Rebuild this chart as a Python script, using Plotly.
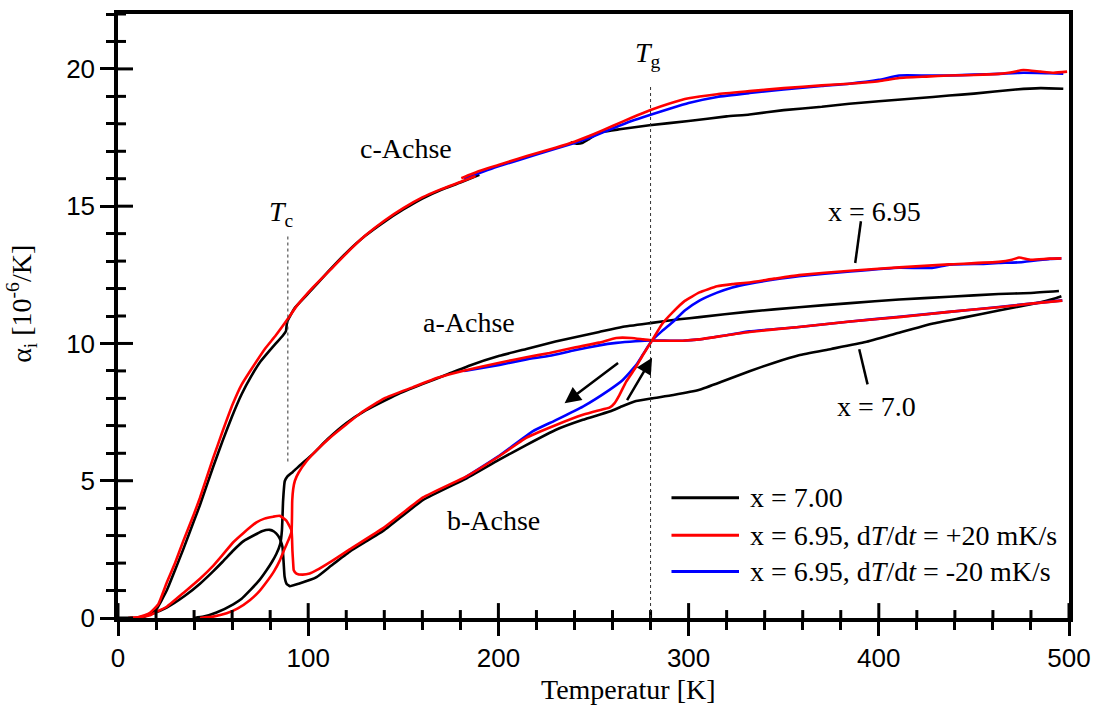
import plotly.graph_objects as go

# ---------------- data ----------------
# c-axis, x = 7.00 (two measurement segments)
T_c7_1 = [7, 12, 16, 20, 25.6, 30, 34.3, 40, 43, 50, 55, 60, 65, 70, 75, 79.8, 83, 86.8, 88.3, 88.9,
          93, 100, 110, 120, 130, 140, 150, 160, 170, 180, 190]
c7_1 = [0.0, 0.02, 0.12, 0.3, 1.0, 1.75, 2.5, 3.55, 4.1, 5.5, 6.45, 7.35, 8.15, 8.8, 9.35, 9.75, 10.0, 10.3, 10.45, 10.78,
        11.3, 11.82, 12.58, 13.3, 13.92, 14.43, 14.88, 15.28, 15.6, 15.86, 16.14]
T_c7_2 = [238, 241, 244, 247, 251, 255, 263.7, 279.4, 300, 320, 332, 350, 370, 384.5, 400, 420, 437, 450, 472, 485, 497]
c7_2 = [17.33, 17.28, 17.3, 17.42, 17.6, 17.71, 17.8, 17.95, 18.1, 18.27, 18.34, 18.5, 18.62, 18.73, 18.82, 18.93,
        19.03, 19.1, 19.25, 19.3, 19.28]

# a-axis, x = 7.00
T_a7 = [40, 45, 51.8, 60.6, 65, 69.3, 74, 78.1, 81, 83.3, 85.3, 86.2, 86.8, 87.7, 89, 91.9, 96, 102.4, 110, 120.1,
        130, 146.4, 160, 172.6, 185, 200.6, 214.7, 230, 253, 265, 280.8, 295, 305.7, 332, 358, 385, 410.7, 437,
        463, 480, 494.7]
a7 = [0.0, 0.05, 0.2, 0.5, 0.7, 1.0, 1.35, 1.74, 2.05, 2.34, 2.7, 3.2, 4.27, 4.99, 5.15, 5.32, 5.58, 5.97, 6.5, 7.1,
      7.55, 8.13, 8.52, 8.86, 9.2, 9.55, 9.8, 10.07, 10.42, 10.6, 10.75, 10.88, 10.96, 11.16, 11.32, 11.47, 11.6, 11.7,
      11.8, 11.84, 11.91]

# b-axis, x = 7.00
T_b7 = [6.3, 10, 13.3, 18, 25.6, 35, 43.1, 50, 55, 60.6, 66, 72.8, 76, 79.8, 82, 84.2, 85.6, 86.5, 87.1, 87.6, 88.6,
        90.3, 95, 104.4, 112, 121.8, 140, 160.4, 183, 200, 214.6, 230, 244.4, 258.4, 265.4, 272.4, 280.8, 292,
        305.7, 318, 332, 345, 358, 375, 393, 410, 428, 445, 463, 480.7, 493, 496]
b7 = [0.0, 0.0, 0.05, 0.15, 0.38, 0.8, 1.25, 1.7, 2.05, 2.46, 2.8, 3.06, 3.17, 3.21, 3.15, 3.0, 2.8, 2.58, 2.0, 1.5,
      1.25, 1.16, 1.25, 1.49, 1.9, 2.42, 3.2, 4.3, 5.08, 5.75, 6.3, 6.85, 7.22, 7.52, 7.72, 7.9, 8.0, 8.12, 8.31,
      8.62, 8.99, 9.3, 9.57, 9.8, 10.05, 10.38, 10.72, 10.95, 11.2, 11.44, 11.65, 11.72]

# c-axis, x = 6.95, +20 mK/s (two segments)
T_c695p_1 = [5.4, 10, 14, 17, 21.2, 25.6, 30, 34.3, 40, 43.1, 50, 55, 60.4, 65, 70, 77.2, 83, 89.3, 93.8, 102.6,
             111.3, 121.8, 130, 140, 150, 160, 170, 180, 188]
c695p_1 = [0.0, 0.02, 0.1, 0.2, 0.5, 1.28, 2.0, 2.8, 3.8, 4.38, 5.82, 6.8, 7.8, 8.5, 9.05, 9.8, 10.3, 10.9, 11.35,
           12.05, 12.66, 13.4, 13.93, 14.47, 14.93, 15.32, 15.62, 15.88, 16.1]
T_c695p_2 = [180.5, 190, 200, 210, 220, 230, 240, 250, 260, 270, 280, 290, 300, 315, 332, 350, 370, 384.5, 400,
             410.7, 425, 437, 450, 463, 470, 476, 485, 492, 499]
c695p_2 = [16.02, 16.28, 16.5, 16.72, 16.93, 17.13, 17.35, 17.62, 17.92, 18.22, 18.5, 18.74, 18.93, 19.08, 19.19,
           19.3, 19.4, 19.46, 19.55, 19.67, 19.72, 19.76, 19.78, 19.82, 19.88, 19.96, 19.9, 19.86, 19.9]

# a-axis, x = 6.95, +20 mK/s
T_a695p = [43.1, 50, 57.1, 63, 69.3, 74, 78.1, 82, 85.1, 87.5, 89.5, 91.2, 91.6, 92.1, 93, 95, 99.1, 105, 111.3,
           120, 128.7, 140, 154.9, 168, 181.2, 200.6, 214.7, 226.9, 240, 253, 262, 270, 276, 280.8, 290, 296.9,
           305.7, 320, 332, 358, 385, 410.7, 437, 463, 480, 496.5]
a695p = [0.0, 0.05, 0.17, 0.35, 0.65, 0.95, 1.31, 1.7, 2.1, 2.5, 2.82, 3.12, 4.27, 4.69, 5.0, 5.3, 5.71, 6.15, 6.56,
         7.05, 7.52, 8.0, 8.4, 8.75, 9.0, 9.3, 9.5, 9.65, 9.85, 10.03, 10.2, 10.2, 10.15, 10.11, 10.1, 10.1,
         10.15, 10.3, 10.42, 10.6, 10.8, 10.96, 11.15, 11.32, 11.45, 11.56]

# b-axis, x = 6.95, +20 mK/s
T_b695p = [5.4, 10, 16.8, 21, 25.6, 35, 43.1, 50, 55, 60.6, 66, 72.8, 77, 81.6, 85.1, 88.6, 90.5, 91.2, 91.5, 91.7,
           92.1, 92.4, 93.8, 97, 100.8, 104.4, 113, 121.8, 140, 160.4, 183, 200.6, 214.6, 230, 244.4, 252, 258.4,
           261, 263.7, 267.2, 272.4, 275.9, 280.8, 286, 291.7, 298, 305.7, 315, 323, 332, 345, 358, 385, 410.7,
           437, 463, 470, 473.7, 480, 489.5, 496]
b695p = [0.0, 0.02, 0.1, 0.25, 0.41, 0.95, 1.43, 1.9, 2.3, 2.76, 3.1, 3.48, 3.62, 3.69, 3.72, 3.54, 3.3, 3.2, 2.9,
         2.46, 2.0, 1.74, 1.62, 1.58, 1.62, 1.74, 2.1, 2.5, 3.3, 4.39, 5.15, 5.9, 6.56, 7.02, 7.4, 7.55, 7.66, 7.82,
         8.13, 8.61, 9.15, 9.57, 10.11, 10.7, 11.14, 11.55, 11.86, 12.08, 12.16, 12.22, 12.36, 12.49, 12.65, 12.77,
         12.88, 12.97, 13.05, 13.13, 13.05, 13.09, 13.1]

# x = 6.95, -20 mK/s
T_c695m = [182, 200, 220, 240, 250, 260, 270, 280, 290, 300, 315, 332, 350, 370, 384.5, 400, 410.7, 425, 437, 450,
           463, 476, 490, 497]
c695m = [16.0, 16.45, 16.88, 17.3, 17.55, 17.83, 18.1, 18.33, 18.55, 18.76, 18.98, 19.12, 19.25, 19.38, 19.46,
         19.6, 19.76, 19.76, 19.76, 19.79, 19.82, 19.86, 19.84, 19.83]
T_a695m = [182, 200.6, 214.7, 226.9, 240, 253, 262, 272, 280.8, 290, 296.9, 305.7, 320, 332, 358, 385, 410.7, 437,
           463, 480, 496.5]
a695m = [9.0, 9.22, 9.42, 9.55, 9.75, 9.93, 10.02, 10.08, 10.11, 10.1, 10.1, 10.15, 10.3, 10.44, 10.6, 10.8, 10.97,
         11.15, 11.33, 11.45, 11.57]
T_b695m = [182, 200.6, 218, 230, 244.4, 258.4, 265.4, 272.4, 276, 280.8, 286, 291.7, 298, 305.7, 315, 323, 332, 345,
           358, 385, 410.7, 428, 437, 455, 463, 475, 490, 496]
b695m = [5.1, 5.92, 6.8, 7.2, 7.7, 8.31, 8.67, 9.21, 9.6, 10.11, 10.45, 10.78, 11.2, 11.56, 11.85, 12.04, 12.18,
         12.33, 12.45, 12.62, 12.76, 12.75, 12.87, 12.9, 12.93, 12.96, 13.08, 13.1]

legend_labels = ["x = 7.00",
                 "x = 6.95, d<i>T</i>/d<i>t</i> = +20 mK/s",
                 "x = 6.95, d<i>T</i>/d<i>t</i> = -20 mK/s"]
colors = ["#000000", "#ff0000", "#0000ff"]

X_RANGE = [0, 500]
Y_RANGE = [0, 22]
x_ticks = [0, 100, 200, 300, 400, 500]
y_ticks = [0, 5, 10, 15, 20]
x_minor_step = 20
y_minor_step = 1
T_c_mark = 89.3
T_g_mark = 280.0

W, H = 1101, 709
M = dict(l=118, r=31, t=10, b=91)
PLOT_W = W - M["l"] - M["r"]
PLOT_H = H - M["t"] - M["b"]

SERIF = "Liberation Serif, Times New Roman, serif"
SANS = "Liberation Sans, Arial, sans-serif"

fig = go.Figure()

def add(T, v, color):
    fig.add_trace(go.Scatter(x=T, y=v, mode="lines", showlegend=False,
                             line=dict(color=color, width=2.6, shape="spline", smoothing=0.4),
                             hoverinfo="skip"))

for T, v in [(T_c7_1, c7_1), (T_c7_2, c7_2), (T_a7, a7), (T_b7, b7)]:
    add(T, v, colors[0])
for T, v in [(T_c695m, c695m), (T_a695m, a695m), (T_b695m, b695m)]:
    add(T, v, colors[2])
for T, v in [(T_c695p_1, c695p_1), (T_c695p_2, c695p_2), (T_a695p, a695p), (T_b695p, b695p)]:
    add(T, v, colors[1])

# axes draw the outside halves of the crossing ticks
tickstyle = dict(tickwidth=3, tickcolor="black")
fig.update_layout(
    width=W, height=H,
    margin=M,
    paper_bgcolor="white", plot_bgcolor="white",
    showlegend=False,
    xaxis=dict(range=X_RANGE, tickvals=x_ticks, ticks="outside", ticklen=14, **tickstyle,
               minor=dict(dtick=x_minor_step, tick0=0, ticks="outside", ticklen=8, tickwidth=3, tickcolor="black"),
               showline=True, linewidth=3.5, linecolor="black", mirror=True,
               showgrid=False, zeroline=False,
               tickfont=dict(family=SANS, size=26, color="black"), ticklabelstandoff=0),
    yaxis=dict(range=Y_RANGE, tickvals=y_ticks, ticks="outside", ticklen=14, **tickstyle,
               minor=dict(dtick=y_minor_step, tick0=0, ticks="outside", ticklen=8, tickwidth=3, tickcolor="black"),
               showline=True, linewidth=3.5, linecolor="black", mirror=True,
               showgrid=False, zeroline=False,
               tickfont=dict(family=SANS, size=26, color="black"), ticklabelstandoff=0),
)

# inside halves of the crossing ticks
for t in range(X_RANGE[0], X_RANGE[1] + 1, x_minor_step):
    ln = 15 if t in x_ticks else 8
    xp = (t - X_RANGE[0]) / (X_RANGE[1] - X_RANGE[0])
    fig.add_shape(type="line", xref="paper", yref="paper", x0=xp, x1=xp, y0=0, y1=ln / PLOT_H,
                  line=dict(color="#000000", width=3))
for t in range(Y_RANGE[0], Y_RANGE[1] + 1, y_minor_step):
    ln = 15 if t in y_ticks else 8
    yp = (t - Y_RANGE[0]) / (Y_RANGE[1] - Y_RANGE[0])
    fig.add_shape(type="line", xref="paper", yref="paper", y0=yp, y1=yp, x0=0, x1=ln / PLOT_W,
                  line=dict(color="#000000", width=3))

# axis titles
fig.add_annotation(text="Temperatur [K]", xref="paper", yref="paper", x=0.537, y=-0.118,
                   showarrow=False, font=dict(family=SERIF, size=28, color="black"),
                   xanchor="center", yanchor="middle")
fig.add_annotation(text="α<sub>i</sub> [10<sup>-6</sup>/K]", xref="paper", yref="paper", x=-0.101, y=0.52,
                   showarrow=False, textangle=-90, font=dict(family=SERIF, size=28, color="black"),
                   xanchor="center", yanchor="middle")

# dashed marker lines
fig.add_shape(type="line", x0=T_c_mark, x1=T_c_mark, y0=5.7, y1=13.96, xref="x", yref="y",
              line=dict(color="#333333", width=1, dash="3px,3px"))
fig.add_shape(type="line", x0=T_g_mark, x1=T_g_mark, y0=0, y1=19.4, xref="x", yref="y",
              line=dict(color="#333333", width=1, dash="3px,3px"))

text_font = dict(family=SERIF, size=28, color="black")
labels = [("<i>T</i><sub>c</sub>", 86.1, 14.75), ("<i>T</i><sub>g</sub>", 278.4, 20.54),
          ("c-Achse", 151.3, 17.11), ("a-Achse", 184.8, 10.75), ("b-Achse", 197.5, 3.55),
          ("x = 6.95", 397.6, 14.8), ("x = 7.0", 398.6, 7.7)]
for txt, xx, yy in labels:
    fig.add_annotation(text=txt, x=xx, y=yy, xref="x", yref="y", showarrow=False, font=text_font,
                       xanchor="center", yanchor="middle")

# pointer lines
fig.add_shape(type="line", x0=390.6, y0=14.45, x1=387.6, y1=12.93, xref="x", yref="y",
              line=dict(color="black", width=2.5))
fig.add_shape(type="line", x0=389.7, y0=9.79, x1=394.1, y1=8.51, xref="x", yref="y",
              line=dict(color="black", width=2.5))

# heating / cooling arrows
fig.add_annotation(x=234.8, y=7.82, ax=263.7, ay=9.33, xref="x", yref="y", axref="x", ayref="y",
                   text="", showarrow=True, arrowhead=2, arrowsize=1.3, arrowwidth=2.5, arrowcolor="black")
fig.add_annotation(x=280.8, y=9.48, ax=267.2, ay=7.88, xref="x", yref="y", axref="x", ayref="y",
                   text="", showarrow=True, arrowhead=2, arrowsize=1.3, arrowwidth=2.5, arrowcolor="black")

# legend (drawn in paper coordinates)
leg_y = [0.199, 0.137, 0.077]
for lab, col, yy in zip(legend_labels, colors, leg_y):
    fig.add_shape(type="line", xref="paper", yref="paper", x0=0.582, x1=0.653, y0=yy, y1=yy,
                  line=dict(color=col, width=3))
    fig.add_annotation(text=lab, xref="paper", yref="paper", x=0.662, y=yy, showarrow=False,
                       font=text_font, xanchor="left", yanchor="middle")

fig.write_html("out.html")
